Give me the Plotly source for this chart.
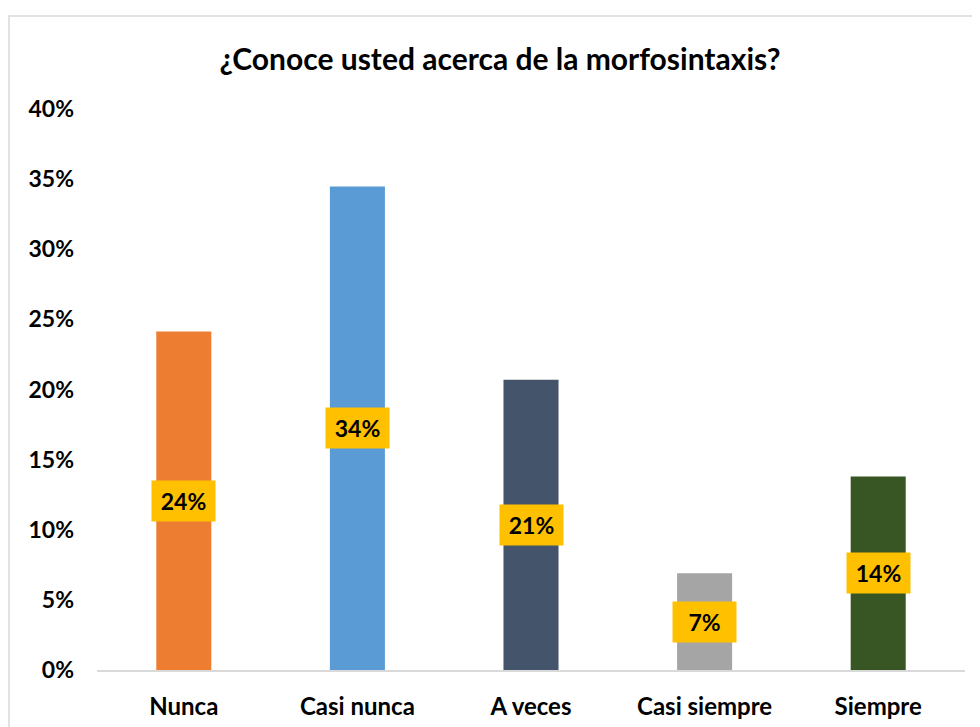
import plotly.graph_objects as go

categories = ["Nunca", "Casi nunca", "A veces", "Casi siempre", "Siempre"]
values = [24.14, 34.48, 20.69, 6.90, 13.79]
labels = ["24%", "34%", "21%", "7%", "14%"]
colors = ["#ED7D31", "#5B9BD5", "#44546A", "#A5A5A5", "#375623"]
y_ticks = [0, 5, 10, 15, 20, 25, 30, 35, 40]
title = "¿Conoce usted acerca de la morfosintaxis?"

FONT = "Lato"

fig = go.Figure()
fig.add_trace(go.Bar(x=categories, y=values, marker=dict(color=colors, line=dict(width=0)),
                     hoverinfo="skip"))

for c, v, t in zip(categories, values, labels):
    fig.add_annotation(x=c, y=v / 2, text="<b>" + t + "</b>", showarrow=False,
                       bgcolor="#FFC000", width=59, height=36, borderpad=2,
                       font=dict(family=FONT, size=23, color="#000000"))

# page body has an 8px offset, so the figure is laid out 8px up/left
fig.add_shape(type="rect", xref="paper", yref="paper", x0=-0.1014, x1=1.05,
              y0=-0.2, y1=1.1658, line=dict(color="#D9D9D9", width=1.5), layer="below")

fig.update_layout(
    width=972, height=719,
    margin=dict(l=89, r=15, t=101, b=57, autoexpand=False),
    paper_bgcolor="white", plot_bgcolor="white",
    bargap=0.683,
    showlegend=False,
    title=dict(text="<b>" + title + "</b>", x=(500 - 97) / 868, xref="paper", xanchor="center",
               y=1 - 51 / 719, yref="container", yanchor="middle",
               font=dict(family=FONT, size=30, color="#000000")),
    font=dict(family=FONT, color="#000000"),
)
fig.update_xaxes(showline=True, linecolor="#D9D9D9", linewidth=1.5, showgrid=False,
                 ticks="", tickfont=dict(family=FONT, size=24, color="#000000"),
                 ticklabelstandoff=14, zeroline=False, automargin=False,
                 tickvals=categories, ticktext=[f"<b>{c}</b>" for c in categories])
fig.update_yaxes(range=[0, 40], tickvals=y_ticks, ticktext=[f"<b>{t}%</b>" for t in y_ticks],
                 showgrid=False, zeroline=False, showline=False, ticks="", automargin=False,
                 tickfont=dict(family=FONT, size=23, color="#000000"), ticklabelstandoff=22)

fig.write_html("out.html")
